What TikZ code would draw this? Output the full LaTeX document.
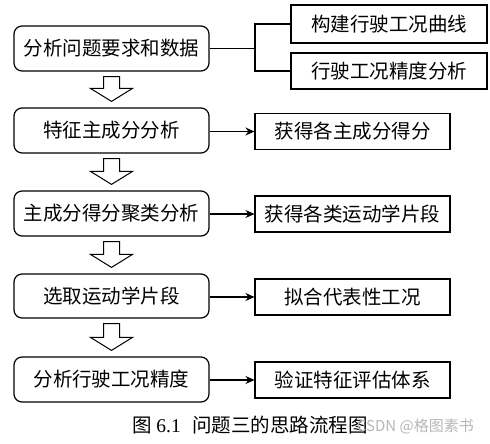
\documentclass[tikz,border=0pt]{standalone}
\usepackage{fontspec}
\setmainfont{Liberation Serif}
\newfontfamily\cjk{Noto Sans CJK SC}
\usetikzlibrary{calc,arrows.meta}
\tikzset{
  mainbox/.style={draw, line width=1.2pt, rounded corners=8pt, minimum width=195pt, minimum height=45pt, inner sep=0pt, font=\cjk\fontsize{19.5}{21}\selectfont},
  sidebox/.style={draw, line width=1.1pt, minimum width=195pt, minimum height=36pt, inner sep=0pt, font=\cjk\fontsize{19.5}{21}\selectfont},
  link/.style={line width=1.1pt},
  arr/.style={line width=1.1pt, -{Stealth[length=9pt,width=8pt]}},
  blk/.style={draw, line width=1pt, fill=white, line join=miter}
}
\newcommand\flowarrow[2]{%
  \draw[blk] ($(#1.south)+(-8,5)$) -- ($(#1.south)+(8,5)$) -- ($(#2.north)+(8,-19)$) -- ($(#2.north)+(21,-19)$) -- ($(#2.north)+(0,-6)$) -- ($(#2.north)+(-21,-19)$) -- ($(#2.north)+(-8,-19)$) -- cycle;}
\begin{document}
\begin{tikzpicture}[x=1pt,y=-1pt]
\useasboundingbox[fill=white] (0,0) rectangle (490,444);
% main column
\node[mainbox] (b1) at (111.5,48.5) {分析问题要求和数据};
\node[mainbox] (b2) at (111.5,130.5) {特征主成分分析};
\node[mainbox] (b3) at (111.5,213.5) {主成分得分聚类分析};
\node[mainbox, minimum height=44pt] (b4) at (111.5,296) {选取运动学片段};
\node[mainbox] (b5) at (111.5,379.5) {分析行驶工况精度};
% top right boxes
\node[sidebox, minimum width=196pt, minimum height=38pt] (t1) at (389,24) {构建行驶工况曲线};
\node[sidebox, minimum width=196pt] (t2) at (389,71) {行驶工况精度分析};
% side boxes
\node[sidebox] (s2) at (352.5,131.5) {获得各主成分得分};
\node[sidebox] (s3) at (352.5,214) {获得各类运动学片段};
\node[sidebox] (s4) at (352.5,297) {拟合代表性工况};
\node[sidebox] (s5) at (352.5,380) {验证特征评估体系};
% bracket connector
\coordinate (j) at (255,48.5);
\draw[link] (b1.east) -- (j);
\draw[link] (t1.west) -| (j) |- (t2.west);
% side arrows
\draw[arr] (b2.east |- s2.west) -- (s2.west);
\draw[arr] (b3.east |- s3.west) -- (s3.west);
\draw[arr] (b4.east |- s4.west) -- (s4.west);
\draw[arr] (b5.east |- s5.west) -- (s5.west);
% block arrows
\flowarrow{b1}{b2}
\flowarrow{b2}{b3}
\flowarrow{b3}{b4}
\flowarrow{b4}{b5}
% caption and watermark
\node[font=\fontsize{19.5}{21}\selectfont, inner sep=0pt] (cap) at (250,425) {{\cjk 图} 6.1\hspace{0.6em}{\cjk 问题三的思路流程图}};
\node[font=\cjk\fontsize{15}{17}\selectfont, text=black!28, anchor=east, inner sep=0pt] (wm) at (474,426) {CSDN @格图素书};
\end{tikzpicture}
\end{document}
